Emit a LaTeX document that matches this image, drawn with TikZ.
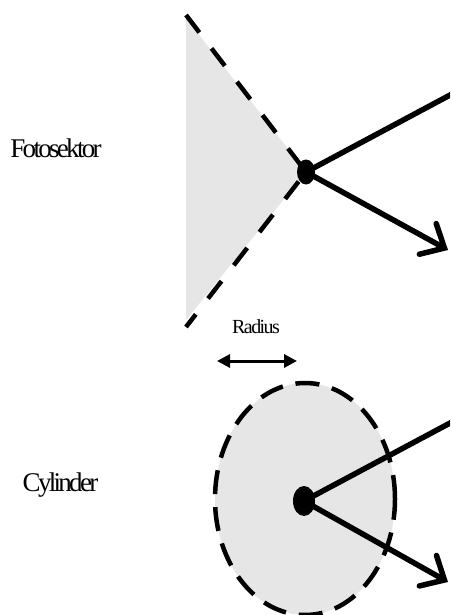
\documentclass[tikz,border=0pt]{standalone}
\usepackage{fontspec}
\setmainfont{Liberation Serif}
\newfontfamily\tightserif[LetterSpace=-10]{Liberation Serif}
\newfontfamily\tightsmall[LetterSpace=-8]{Liberation Serif}
\usetikzlibrary{arrows.meta,shapes.geometric}
\definecolor{fillgray}{HTML}{E6E6E6}
\tikzset{
  lbl/.style={font=\tightserif\fontsize{27}{27}\selectfont, inner sep=0pt},
  smalllbl/.style={font=\tightsmall\fontsize{20}{20}\selectfont, inner sep=0pt},
  dashline/.style={line width=4.5pt, dash pattern=on 22pt off 20pt},
  dot/.style={ellipse, fill=black, inner sep=0pt},
  ray/.style={line width=5.5pt},
  arrowray/.style={line width=5.5pt, -{Straight Barb[length=19pt,width=35pt,line cap=round]}},
}
\begin{document}
\begin{tikzpicture}[x=1pt,y=-1pt]
\useasboundingbox (0,0) rectangle (450,615);
\clip (0,0) rectangle (450,615);
% upper panel
\coordinate (ttop) at (186,15);
\coordinate (tbot) at (186,327);
\coordinate (tv) at (306,172);
\fill[fillgray] (186,18) -- (tv) -- (186,320) -- cycle;
\draw[dashline] (ttop) -- (tv);
\draw[dashline, dash phase=6pt] (tbot) -- (tv);
\node[dot, minimum width=18pt, minimum height=25pt] (d1) at (tv) {};
\coordinate (u1) at (452,94);
\coordinate (a1) at (448,250);
\draw[ray] (d1.center) -- (u1);
\draw[arrowray] (d1.center) -- (a1);
\node[lbl, anchor=base] (foto) at (56,157) {Fotosektor};
% radius
\node[smalllbl, anchor=base] (rad) at (256,333) {Radius};
\coordinate (rl) at (217,361);
\coordinate (rr) at (297,361);
\draw[line width=3pt, {Triangle[length=13pt,width=13pt]}-{Triangle[length=13pt,width=13pt]}] (rl) -- (rr);
% lower panel
\node[ellipse, draw, fill=fillgray, dashline, dash pattern=on 24pt off 13pt, minimum width=180pt, minimum height=232pt, inner sep=0pt] (cyl) at (305,499) {};
\node[dot, minimum width=22pt, minimum height=30pt] (d2) at (304,501) {};
\coordinate (u2) at (452,422);
\coordinate (a2) at (448,582);
\draw[ray] (d2.center) -- (u2);
\draw[arrowray] (d2.center) -- (a2);
\node[lbl, anchor=base] (cyltext) at (60.5,491) {Cylinder};
\end{tikzpicture}
\end{document}
